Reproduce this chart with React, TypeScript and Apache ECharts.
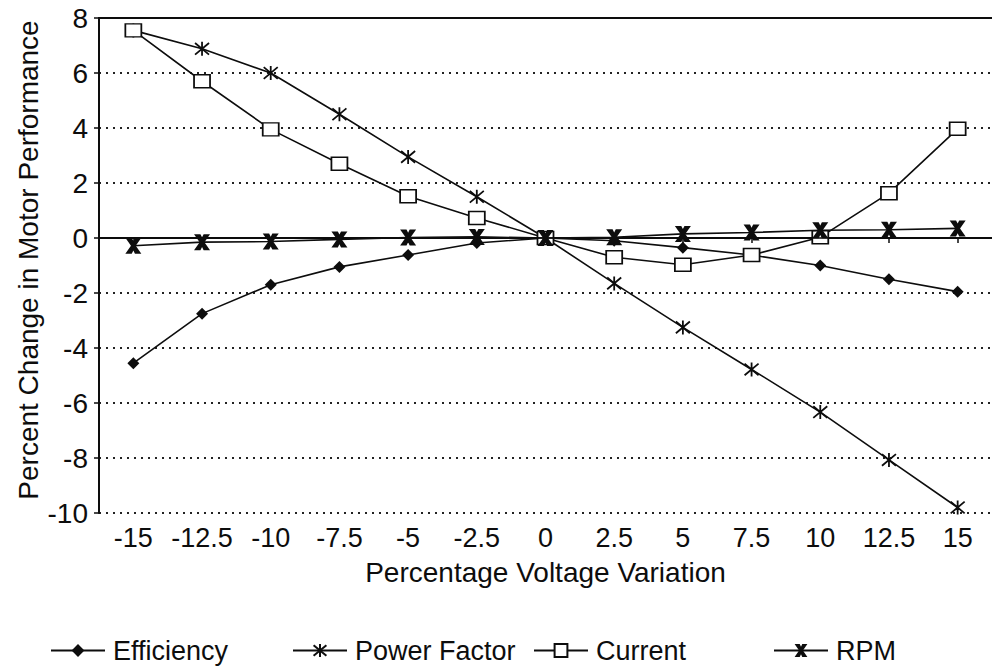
import React, { useEffect, useRef } from "react";
import * as echarts from "echarts";

const categories = ["-15", "-12.5", "-10", "-7.5", "-5", "-2.5", "0", "2.5", "5", "7.5", "10", "12.5", "15"];
const efficiency = [-4.55, -2.75, -1.7, -1.05, -0.62, -0.18, 0, -0.1, -0.35, -0.62, -1.0, -1.5, -1.95];
const powerFactor = [7.55, 6.88, 6.0, 4.5, 2.95, 1.5, 0, -1.65, -3.25, -4.78, -6.33, -8.07, -9.8];
const current = [7.55, 5.7, 3.95, 2.7, 1.52, 0.73, 0, -0.7, -0.97, -0.62, 0.03, 1.63, 3.97];
const rpm = [-0.28, -0.15, -0.13, -0.05, 0.02, 0.04, 0, 0.03, 0.15, 0.2, 0.28, 0.3, 0.35];
const yMin = -10;
const yMax = 8;
const yStep = 2;

const FONT = "Liberation Sans, Arial, Helvetica, sans-serif";
const INK = "#0d0d0d";

const asteriskPath = "path://M-10,-10L10,10M-10,10L10,-10M0,-12L0,12";
const rpmPath = "path://M-10,-10L-2,-10L0,-6L2,-10L10,-10L3,0L10,10L2,10L0,6L-2,10L-10,10L-3,0Z";

export default function App() {
  const ref = useRef<HTMLDivElement>(null);
  useEffect(() => {
    if (!ref.current) return;
    const chart = echarts.init(ref.current, undefined, { renderer: "svg" });
    const lineStyle = { color: INK, width: 1.6 };
    const legendBase = {
      top: 632,
      itemWidth: 54,
      itemHeight: 16,
      textStyle: { fontFamily: FONT, fontSize: 27, color: INK, padding: [0, 0, 0, 3] },
      selectedMode: false,
    };
    chart.setOption({
      animation: false,
      backgroundColor: "#fff",
      grid: { left: 99, right: -8, top: 18, bottom: 153, containLabel: false },
      legend: [
        { ...legendBase, left: 45, data: ["Efficiency"] },
        { ...legendBase, left: 287, data: ["Power Factor"] },
        { ...legendBase, left: 528, data: ["Current"] },
        { ...legendBase, left: 768, data: ["RPM"] },
      ],
      graphic: [
        {
          type: "text",
          x: 28,
          y: 260,
          rotation: Math.PI / 2,
          style: {
            text: "Percent Change in Motor Performance",
            fontFamily: FONT,
            fontSize: 28,
            fill: INK,
            textAlign: "center",
            textVerticalAlign: "middle",
          },
        },
      ],
      xAxis: [
        {
          type: "category",
          data: categories,
          boundaryGap: true,
          name: "Percentage Voltage Variation",
          nameLocation: "middle",
          nameGap: 45,
          nameTextStyle: { fontFamily: FONT, fontSize: 28, color: INK },
          axisLine: { show: true, lineStyle: { color: INK, width: 2 } },
          axisTick: { show: true, alignWithLabel: true, interval: 0, length: 5, lineStyle: { color: INK, width: 1.5 } },
          axisLabel: { fontFamily: FONT, fontSize: 27, color: INK, margin: 11, interval: 0 },
          splitLine: { show: false },
        },
        {
          type: "category",
          data: categories,
          position: "top",
          axisLine: { show: true, onZero: false, lineStyle: { color: INK, width: 2 } },
          axisTick: { show: false },
          axisLabel: { show: false },
          splitLine: { show: false },
        },
      ],
      yAxis: {
        type: "value",
        min: yMin,
        max: yMax,
        interval: yStep,
        axisLine: { show: true, lineStyle: { color: INK, width: 2 } },
        axisTick: { show: true, length: 5, lineStyle: { color: INK, width: 1.5 } },
        axisLabel: { fontFamily: FONT, fontSize: 28, color: INK, margin: 11 },
        splitLine: { show: true, lineStyle: { color: "#222", width: 2, type: [2, 5] } },
      },
      series: [
        {
          name: "Efficiency",
          type: "line",
          data: efficiency,
          symbol: "diamond",
          symbolSize: 12,
          itemStyle: { color: INK },
          lineStyle,
          z: 3,
          markLine: {
            silent: true,
            symbol: "none",
            label: { show: false },
            lineStyle: { type: "solid", color: INK, width: 1.6 },
            data: [{ yAxis: 0 }],
          },
        },
        {
          name: "Power Factor",
          type: "line",
          data: powerFactor,
          symbol: asteriskPath,
          symbolSize: 14,
          itemStyle: { color: INK, borderColor: INK, borderWidth: 1.8 },
          lineStyle,
          z: 3,
        },
        {
          name: "Current",
          type: "line",
          data: current,
          symbol: "rect",
          symbolSize: [16, 13],
          itemStyle: { color: "#fff", borderColor: INK, borderWidth: 1.6 },
          lineStyle,
          z: 4,
        },
        {
          name: "RPM",
          type: "line",
          data: rpm,
          symbol: rpmPath,
          symbolSize: 16,
          itemStyle: { color: INK },
          lineStyle,
          z: 5,
        },
      ],
    });
    return () => chart.dispose();
  }, []);
  return <div ref={ref} style={{ position: "absolute", left: 0, top: 0, width: 992, height: 666 }} />;
}
